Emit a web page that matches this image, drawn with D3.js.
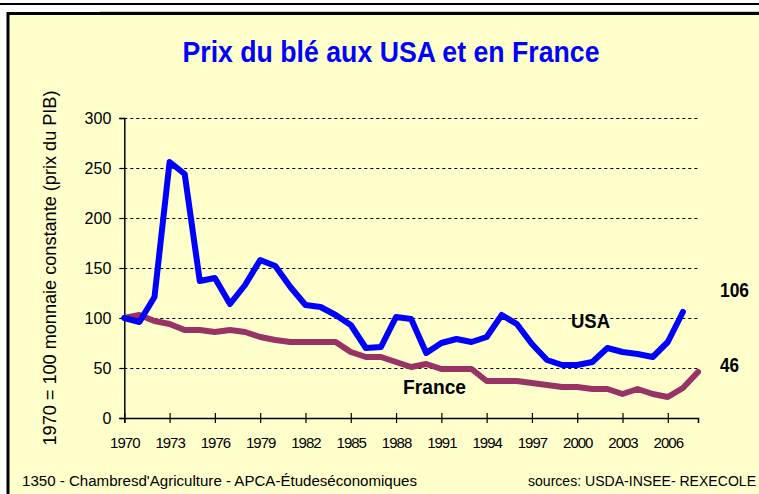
<!DOCTYPE html>
<html>
<head>
  <meta charset="utf-8">
  <script src="https://cdnjs.cloudflare.com/ajax/libs/d3/7.8.5/d3.min.js"></script>
  <title>Prix du blé</title>
  <style>
    body { margin: 0; background: #fff; }
  </style>
</head>
<body>
<script>
// years 1970 -> 2008
var annees = d3.range(1970, 2009);
var usa = [100, 96, 121, 256, 244, 137, 140, 114, 133, 158,
           152, 131, 113, 111, 103, 93, 70, 71, 101, 99,
           65, 75, 79, 76, 81, 103, 94, 74, 58, 53,
           53, 56, 70, 66, 64, 61, 76, 106];
var france = [100, 103, 97, 94, 88, 88, 86, 88, 86, 81,
              78, 76, 76, 76, 76, 66, 61, 61, 56, 51,
              54, 49, 49, 49, 37, 37, 37, 35, 33, 31,
              31, 29, 29, 24, 29, 24, 21, 30, 46];
var ticksX = [1970, 1973, 1976, 1979, 1982, 1985, 1988, 1991, 1994, 1997, 2000, 2003, 2006];
var ticksY = [0, 50, 100, 150, 200, 250, 300];

var W = 759, H = 494;
var narrow = "'Liberation Sans Narrow', 'Arial Narrow', sans-serif";
var arial = "'Liberation Sans', Arial, sans-serif";

var svg = d3.select("body").append("svg")
  .attr("width", W).attr("height", H);

// top rule + panel
svg.append("rect").attr("x", 0).attr("y", 3).attr("width", W).attr("height", 2).attr("fill", "#000");
svg.append("rect").attr("x", 100).attr("y", 11.5).attr("width", W).attr("height", 1.5).attr("fill", "#999");
svg.append("rect").attr("x", 8).attr("y", 13.5).attr("width", W + 10).attr("height", H)
  .attr("fill", "#FFFFCC").attr("stroke", "#000").attr("stroke-width", 3);

var x = d3.scaleLinear().domain([1970, 2008]).range([124.3, 698]);
var y = d3.scaleLinear().domain([0, 300]).range([418, 118]);

// grid
svg.selectAll("line.grid").data(ticksY.slice(1)).enter().append("line")
  .attr("x1", x(1970)).attr("x2", x(2008))
  .attr("y1", function(d) { return y(d) + 0.5; })
  .attr("y2", function(d) { return y(d) + 0.5; })
  .attr("stroke", "#000").attr("stroke-width", 1).attr("stroke-dasharray", "3,3");

// axes
var ay = svg.append("g").attr("transform", "translate(" + x(1970) + ",0)")
  .call(d3.axisLeft(y).tickValues(ticksY).tickSize(5).tickPadding(8));
ay.selectAll("text").attr("font-family", arial).attr("font-size", 16).attr("fill", "#000");

var ax = svg.append("g").attr("transform", "translate(0," + y(0) + ")")
  .call(d3.axisBottom(x).tickValues(ticksX).tickFormat(d3.format("d")).tickSize(5).tickPadding(14));
ax.selectAll(".tick line").attr("y1", -5);
ax.selectAll("text").attr("font-family", arial).attr("font-size", 15)
  .attr("letter-spacing", -1).attr("fill", "#000");
svg.selectAll(".domain").attr("stroke", "#000").attr("stroke-width", 1.5);
svg.selectAll(".tick line").attr("stroke", "#000").attr("stroke-width", 1.2);

// lines
var ligne = d3.line()
  .x(function(d, i) { return x(annees[i]); })
  .y(function(d) { return y(d); });

svg.append("path").datum(france).attr("d", ligne)
  .attr("fill", "none").attr("stroke", "#993366").attr("stroke-width", 6)
  .attr("stroke-linejoin", "round").attr("stroke-linecap", "round");
svg.append("path").datum(usa).attr("d", ligne)
  .attr("fill", "none").attr("stroke", "#0000FF").attr("stroke-width", 6)
  .attr("stroke-linejoin", "round").attr("stroke-linecap", "round");

// titles
svg.append("text").attr("x", 391).attr("y", 62).attr("text-anchor", "middle")
  .attr("font-family", narrow).attr("font-weight", "bold").attr("font-size", 30)
  .attr("textLength", 417).attr("lengthAdjust", "spacingAndGlyphs")
  .attr("fill", "#0000FF").text("Prix du blé aux USA et en France");

svg.append("text").attr("transform", "translate(56,268) rotate(-90)")
  .attr("text-anchor", "middle").attr("font-family", arial).attr("font-size", 18)
  .attr("textLength", 355).attr("lengthAdjust", "spacingAndGlyphs")
  .text("1970 = 100 monnaie constante (prix du PIB)");

// series labels
function etiquette(tx, ty, t, len) {
  svg.append("text").attr("x", tx).attr("y", ty)
    .attr("font-family", narrow).attr("font-weight", "bold").attr("font-size", 20)
    .attr("textLength", len).attr("lengthAdjust", "spacingAndGlyphs")
    .attr("fill", "#000").text(t);
}
etiquette(571, 328, "USA", 39);
etiquette(403, 394, "France", 63);
etiquette(720, 297, usa[usa.length - 1], 29);
etiquette(720, 372, france[france.length - 1], 19);

// footer
svg.append("text").attr("x", 22).attr("y", 486)
  .attr("font-family", arial).attr("font-size", 14)
  .attr("textLength", 395).attr("lengthAdjust", "spacingAndGlyphs")
  .text("1350 - Chambresd'Agriculture - APCA-Étudeséconomiques");
svg.append("text").attr("x", 528).attr("y", 486)
  .attr("font-family", arial).attr("font-size", 14)
  .attr("textLength", 228).attr("lengthAdjust", "spacingAndGlyphs")
  .text("sources: USDA-INSEE- REXECOLE");
</script>
</body>
</html>
